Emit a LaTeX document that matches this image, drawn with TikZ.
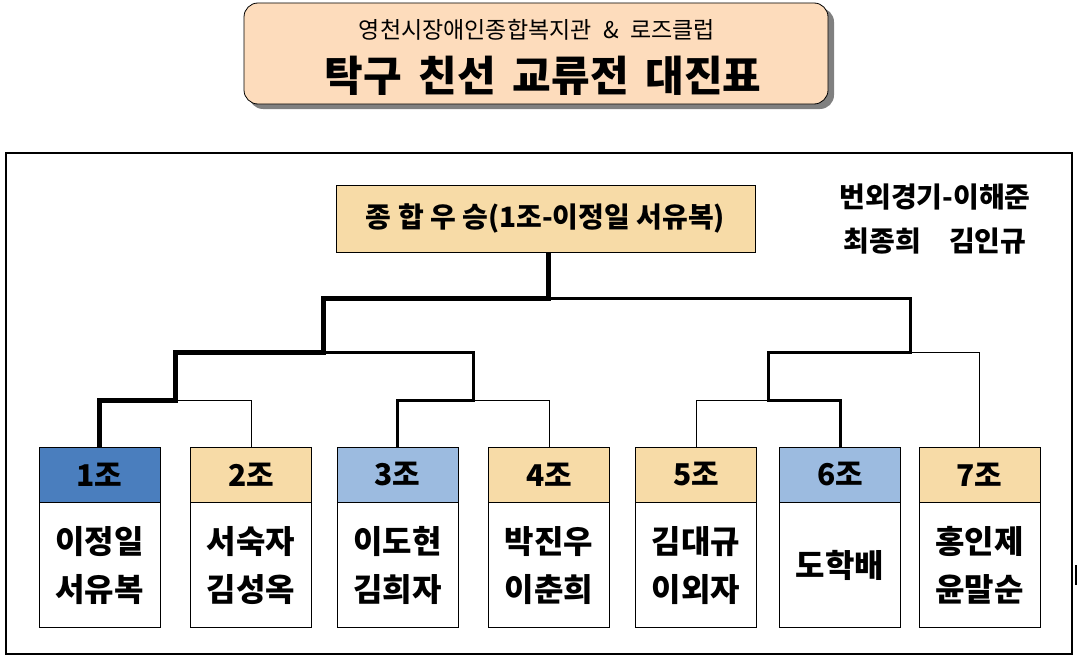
\documentclass[tikz,border=0pt]{standalone}
\usepackage{fontspec}
\setmainfont{Noto Sans CJK KR}
\usepackage{tikz}

\definecolor{peach}{HTML}{FDDCBC}
\definecolor{sand}{HTML}{F7DBA7}
\definecolor{deepblue}{HTML}{4A7EBE}
\definecolor{paleblue}{HTML}{9CBBE0}

\begin{document}
\begin{tikzpicture}[x=1pt,y=-1pt,
    head/.style={draw,line width=0.8pt,minimum width=121pt,minimum height=55pt,inner sep=0pt,
      font=\fontsize{30}{34}\selectfont\bfseries},
    names/.style={draw,fill=white,line width=0.8pt,minimum width=121pt,minimum height=125pt,
      inner sep=0pt,anchor=north,align=center,font=\fontsize{32}{48}\selectfont\bfseries},
    win/.style={line width=5pt},
    semi/.style={line width=3pt},
    lose/.style={line width=1pt}]
    \useasboundingbox (0,0) rectangle (1079,661);

    % title
    \fill[black!50,rounded corners=14pt] (249,8) rectangle (834,109);
    \node[draw,fill=peach,line width=0.8pt,rounded corners=14pt,minimum width=584pt,minimum height=101pt] (title) at (536,53.5) {};
    \node[font=\fontsize{23}{26}\selectfont] (sub) at (537,30) {영천시장애인종합복지관\hspace{0.5em}\&\hspace{0.5em}로즈클럽};
    \node[font=\fontsize{42}{46}\selectfont\bfseries] (main) at (543,76) {탁구\hspace{0.4em}친선\hspace{0.4em}교류전\hspace{0.4em}대진표};

    \draw[line width=2.5pt] (6,153) rectangle (1072,654);
    \draw[line width=2pt] (1076,565) -- (1076,585);

    \node[draw,fill=sand,line width=0.8pt,minimum width=419pt,minimum height=67pt,
      font=\fontsize{28}{32}\selectfont\bfseries] (champ) at (545.5,218.5) {종 합 우 승(1조-이정일 서유복)};
    \node[align=center,font=\fontsize{28}{44}\selectfont\bfseries] (extra) at (935,219) {번외경기-이해준\\최종희\quad 김인규};

    \node[head,fill=deepblue] (h1) at (99.5,474.5) {1조};
    \node[head,fill=sand] (h2) at (251,474.5) {2조};
    \node[head,fill=paleblue] (h3) at (397.5,474.5) {3조};
    \node[head,fill=sand] (h4) at (549,474.5) {4조};
    \node[head,fill=sand] (h5) at (696,474.5) {5조};
    \node[head,fill=paleblue] (h6) at (840,474.5) {6조};
    \node[head,fill=sand] (h7) at (979.5,474.5) {7조};

    \node[names] (b1) at (h1.south) {이정일\\서유복};
    \node[names] (b2) at (h2.south) {서숙자\\김성옥};
    \node[names] (b3) at (h3.south) {이도현\\김희자};
    \node[names] (b4) at (h4.south) {박진우\\이춘희};
    \node[names] (b5) at (h5.south) {김대규\\이외자};
    \node[names] (b6) at (h6.south) {도학배};
    \node[names] (b7) at (h7.south) {홍인제\\윤말순};

    % bracket
    \coordinate (j12) at (175,400);
    \coordinate (j34) at (473,400);
    \coordinate (j56) at (768,400);
    \coordinate (j1234) at (323,352);
    \coordinate (j567) at (910,352);
    \coordinate (fin) at (548,298);

    \draw[lose] (h2.north) |- (j12);
    \draw[lose] (h4.north) |- (j34);
    \draw[lose] (h5.north) |- (j56);
    \draw[lose] (h7.north) |- (j567);
    \draw[semi] (h3.north) |- (j34) |- (j1234);
    \draw[semi] (h6.north) |- (j56) |- (j567) |- (fin);
    \draw[win] (h1.north) |- (j12) |- (j1234) |- (fin) -- (fin |- champ.south);
\end{tikzpicture}
\end{document}
